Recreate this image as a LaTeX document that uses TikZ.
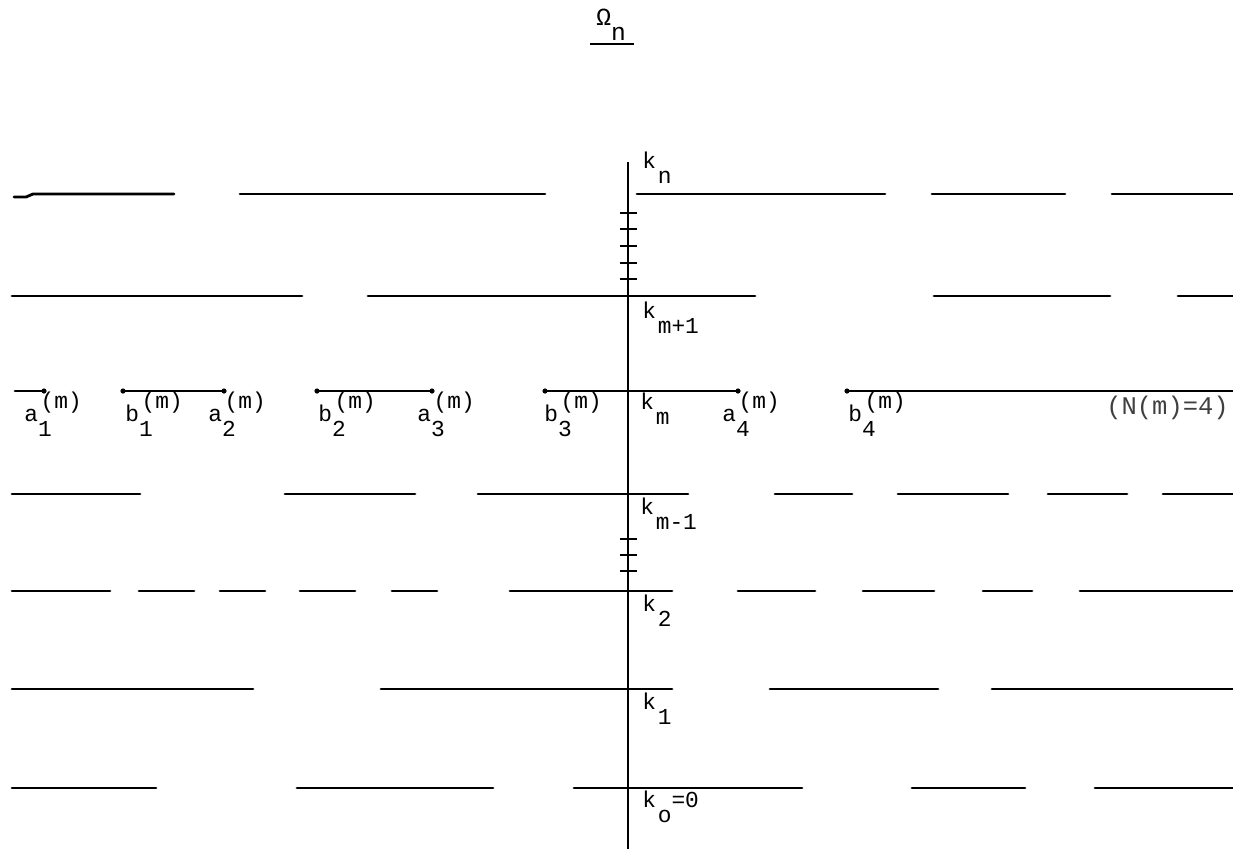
\documentclass[tikz,border=0pt]{standalone}
\usepackage{fontspec}
\setmainfont{Liberation Mono}
\usepackage{tikz}
\usetikzlibrary{positioning,calc}

% endpoint label: letter, (m) raised, index lowered
\newcommand{\ptlbl}[2]{#1\rlap{\kern1.5pt\raisebox{7pt}{(m)}}\raisebox{-9pt}{#2}}
% axis label k with lowered index
\newcommand{\klbl}[2]{k\kern1pt\raisebox{-9pt}{#1}#2}

\begin{document}
\begin{tikzpicture}[x=0.02cm, y=-0.02cm,
  seg/.style={line width=1.6pt, line cap=round},
  axis/.style={line width=0.9pt},
  tickmark/.style={line width=1.5pt},
  lbl/.style={anchor=base west, inner sep=0pt, font=\fontsize{13}{15}\selectfont},
  note/.style={anchor=base east, inner sep=0pt, font=\fontsize{14.5}{16}\selectfont, text=black!75}
]
\useasboundingbox (0,0) rectangle (1233,849);

% Title
\node[lbl] (title) at (596,25) {\fontsize{14}{16}\selectfont Ω\raisebox{-9pt}{n}};
\draw[line width=1.4pt] ($(title.south west)+(-6,3)$) -- ($(title.south east)+(8,3)$);

% Axis
\coordinate (axtop) at (628,162);
\coordinate (axbot) at (628,849);
\draw[axis] (axtop) -- (axbot);
\foreach \ty in {213,229,246,263,279,539,555,571}
  \draw[tickmark] (620,\ty) -- (637,\ty);

% Row k_n
\draw[seg] (14,197) -- (26,197) -- (33,194) -- (174,194);
\foreach \xa/\xb in {240/545,637/885,932/1065,1112/1233}
  \draw[seg] (\xa,194) -- (\xb,194);
% Row k_{m+1}
\foreach \xa/\xb in {12/302,368/755,934/1110,1178/1233}
  \draw[seg] (\xa,296) -- (\xb,296);
% Row k_m with end points
\coordinate (a1) at (44,391);
\coordinate (b1) at (123,391);
\coordinate (a2) at (224,391);
\coordinate (b2) at (317,391);
\coordinate (a3) at (432,391);
\coordinate (b3) at (545,391);
\coordinate (a4) at (738,391);
\coordinate (b4) at (847,391);
\coordinate (rend) at (1233,391);
\draw[seg] (15,391) -- (a1);
\draw[seg] (b1) -- (a2);
\draw[seg] (b2) -- (a3);
\draw[seg] (b3) -- (a4);
\draw[seg] (b4) -- (rend);
\foreach \p in {a1,b1,a2,b2,a3,b3,a4,b4}
  \fill (\p) circle (2.6);
% Row k_{m-1}
\foreach \xa/\xb in {12/140,285/415,478/688,775/852,898/1008,1048/1127,1163/1233}
  \draw[seg] (\xa,494) -- (\xb,494);
% Row k_2
\foreach \xa/\xb in {12/110,139/194,220/265,300/355,392/437,510/672,738/815,863/934,983/1032,1080/1233}
  \draw[seg] (\xa,591) -- (\xb,591);
% Row k_1
\foreach \xa/\xb in {12/253,381/672,770/938,992/1233}
  \draw[seg] (\xa,689) -- (\xb,689);
% Row k_0
\foreach \xa/\xb in {12/156,297/493,574/802,912/1025,1095/1233}
  \draw[seg] (\xa,788) -- (\xb,788);

% Axis labels
\node[lbl] (kn)  at (642,168) {\klbl{n}{}};
\node[lbl] (kmp) at (642,318) {\klbl{m+1}{}};
\node[lbl] (km)  at (640,409) {\klbl{m}{}};
\node[lbl] (kmm) at (640,514) {\klbl{m-1}{}};
\node[lbl] (k2)  at (642,611) {\klbl{2}{}};
\node[lbl] (k1)  at (642,709) {\klbl{1}{}};
\node[lbl] (k0)  at (642,807) {\klbl{o}{=0}};

% End point labels
\node[lbl] (la1) at (24,421)  {\ptlbl{a}{1}};
\node[lbl] (lb1) at (125,421) {\ptlbl{b}{1}};
\node[lbl] (la2) at (208,421) {\ptlbl{a}{2}};
\node[lbl] (lb2) at (318,421) {\ptlbl{b}{2}};
\node[lbl] (la3) at (417,421) {\ptlbl{a}{3}};
\node[lbl] (lb3) at (544,421) {\ptlbl{b}{3}};
\node[lbl] (la4) at (722,421) {\ptlbl{a}{4}};
\node[lbl] (lb4) at (848,421) {\ptlbl{b}{4}};
\node[note] (count) at (1229,414) {(N(m)=4)};
\end{tikzpicture}
\end{document}
